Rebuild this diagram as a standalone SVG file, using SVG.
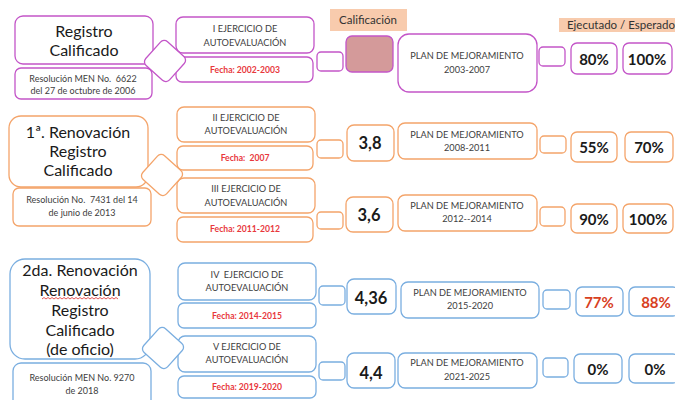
<svg xmlns="http://www.w3.org/2000/svg" width="675" height="400" viewBox="0 0 675 400">
<style>
text{font-family:Lato,"Open Sans","Liberation Sans",sans-serif;text-anchor:middle;white-space:pre}
rect{fill:#fff;stroke-width:1.3}
.p rect,.p.d{stroke:#C355C8}
.o rect,.o.d{stroke:#F4A46A}
.b rect,.b.d{stroke:#7AAEE0}
.d{fill:#fff;stroke-width:1.3}
.big{font-size:16px;fill:#1a1a1a}
.sm{font-size:9.2px;fill:#404040}
.res{font-size:9px;fill:#404040}
.pl{font-size:9.2px;fill:#404040}
.fe{font-size:8.6px;font-weight:bold;fill:#E8383D}
.num{font-size:16.5px;font-weight:bold;fill:#1a1a1a}
.pc{font-size:15px;font-weight:bold;fill:#1a1a1a}
.red{fill:#D8401E}
.lab{fill:#F8CBAD;stroke:none}
.lt{font-size:11.5px;fill:#333}
</style>
<rect width="675" height="400" fill="#fff" stroke="none"/>

<!-- header labels -->
<g id="label-calificacion">
<rect class="lab" x="330" y="9" width="77" height="22"/>
<text class="lt" x="368" y="24">Calificación</text>
</g>
<g id="label-ejecutado">
<rect class="lab" x="559" y="18" width="120" height="14"/>
<text class="lt" x="567" y="29" style="text-anchor:start">Ejecutado / Esperado</text>
</g>

<!-- ===== Row 1 (purple) ===== -->
<g class="p">
<g id="registro-calificado"><rect x="15" y="16" width="138" height="48" rx="8"/>
<text class="big" x="84" y="37">Registro</text><text class="big" x="84" y="56">Calificado</text></g>
<g id="resolucion-2006"><rect x="15" y="68" width="137" height="31" rx="6"/>
<text class="res" x="83" y="82">Resolución MEN No.  6622</text><text class="res" x="83" y="94">del 27 de octubre de 2006</text></g>
<g id="ejercicio-1"><rect x="176" y="17" width="138" height="36" rx="7"/>
<text class="sm" x="245" y="32">I EJERCICIO DE</text><text class="sm" x="245" y="46">AUTOEVALUACIÓN</text></g>
<g id="fecha-1"><rect x="176" y="57" width="137" height="25" rx="6"/>
<text class="fe" x="245" y="73">Fecha: 2002-2003</text></g>
<g id="conector-1a"><rect x="317" y="52" width="26" height="19" rx="4"/></g>
<g id="calificacion-1"><rect x="346" y="36" width="47" height="36" rx="6" style="fill:#D49A9A"/></g>
<g id="plan-1"><rect x="398" y="34" width="139" height="58" rx="11"/>
<text class="pl" x="467" y="59">PLAN DE MEJORAMIENTO</text><text class="pl" x="467" y="73">2003-2007</text></g>
<g id="conector-1b"><rect x="539" y="47" width="26" height="19" rx="4"/></g>
<g id="ejecutado-1"><rect x="571" y="43" width="46" height="31" rx="6"/><text class="pc" x="594" y="65">80%</text></g>
<g id="esperado-1"><rect x="623" y="43" width="49" height="31" rx="6"/><text class="pc" x="647" y="65">100%</text></g>
</g>

<!-- ===== Row 2 (orange) ===== -->
<g class="o">
<g id="renovacion-1"><rect x="9" y="116" width="139" height="71" rx="12"/>
<text class="big" x="78" y="138">1ª. Renovación</text><text class="big" x="78" y="157">Registro</text><text class="big" x="78" y="176">Calificado</text></g>
<g id="resolucion-2013"><rect x="13" y="188" width="138" height="38" rx="6"/>
<text class="res" x="82" y="203">Resolución No.  7431 del 14</text><text class="res" x="82" y="216">de junio de 2013</text></g>
<g id="ejercicio-2"><rect x="177" y="107" width="138" height="35" rx="7"/>
<text class="sm" x="246" y="121">II EJERCICIO DE</text><text class="sm" x="246" y="134">AUTOEVALUACIÓN</text></g>
<g id="fecha-2"><rect x="177" y="146" width="136" height="24" rx="6"/>
<text class="fe" x="245" y="161">Fecha:  2007</text></g>
<g id="ejercicio-3"><rect x="177" y="178" width="138" height="35" rx="7"/>
<text class="sm" x="246" y="192">III EJERCICIO DE</text><text class="sm" x="246" y="206">AUTOEVALUACIÓN</text></g>
<g id="fecha-3"><rect x="177" y="217" width="136" height="25" rx="6"/>
<text class="fe" x="245" y="232">Fecha: 2011-2012</text></g>
<g id="conector-2a"><rect x="317" y="140" width="26" height="18" rx="4"/></g>
<g id="conector-3a"><rect x="317" y="212" width="26" height="17" rx="4"/></g>
<g id="calificacion-2"><rect x="347" y="125" width="47" height="36" rx="7"/><text class="num" x="370" y="149">3,8</text></g>
<g id="plan-2"><rect x="398" y="123" width="139" height="36" rx="7"/>
<text class="pl" x="467" y="138">PLAN DE MEJORAMIENTO</text><text class="pl" x="467" y="151">2008-2011</text></g>
<g id="conector-2b"><rect x="540" y="136" width="26" height="17" rx="4"/></g>
<g id="ejecutado-2"><rect x="571" y="132" width="46" height="30" rx="6"/><text class="pc" x="594" y="153">55%</text></g>
<g id="esperado-2"><rect x="625" y="132" width="48" height="30" rx="6"/><text class="pc" x="649" y="153">70%</text></g>
<g id="calificacion-3"><rect x="346" y="197" width="47" height="35" rx="7"/><text class="num" x="369" y="221">3,6</text></g>
<g id="plan-3"><rect x="398" y="195" width="139" height="36" rx="7"/>
<text class="pl" x="467" y="209">PLAN DE MEJORAMIENTO</text><text class="pl" x="467" y="222">2012--2014</text></g>
<g id="conector-3b"><rect x="540" y="207" width="25" height="19" rx="4"/></g>
<g id="ejecutado-3"><rect x="571" y="204" width="46" height="29" rx="6"/><text class="pc" x="594" y="225">90%</text></g>
<g id="esperado-3"><rect x="623" y="204" width="50" height="29" rx="6"/><text class="pc" x="648" y="225">100%</text></g>
</g>

<!-- ===== Row 3 (blue) ===== -->
<g class="b">
<g id="renovacion-2"><rect x="10" y="259" width="140" height="100" rx="15"/>
<text class="big" x="80" y="276">2da. Renovación</text><text class="big" x="80" y="296">Renovación</text><text class="big" x="80" y="316">Registro</text><text class="big" x="80" y="336">Calificado</text><text class="big" x="80" y="355">(de oficio)</text>
<path d="M42 299 l2 -1.5 l2 1.5 l2 -1.5 l2 1.5 l2 -1.5 l2 1.5 l2 -1.5 l2 1.5 l2 -1.5 l2 1.5 l2 -1.5 l2 1.5 l2 -1.5 l2 1.5 l2 -1.5 l2 1.5 l2 -1.5 l2 1.5 l2 -1.5 l2 1.5 l2 -1.5 l2 1.5 l2 -1.5 l2 1.5 l2 -1.5 l2 1.5 l2 -1.5 l2 1.5 l2 -1.5 l2 1.5 l2 -1.5 l2 1.5 l2 -1.5 l2 1.5 l2 -1.5 l2 1.5 l2 -1.5 l2 1.5" fill="none" stroke="#E03030" stroke-width="0.8"/></g>
<g id="resolucion-2018"><rect x="13" y="363" width="138" height="45" rx="8"/>
<text class="res" x="82" y="381">Resolución MEN No. 9270</text><text class="res" x="82" y="394">de 2018</text></g>
<g id="ejercicio-4"><rect x="178" y="263" width="138" height="37" rx="7"/>
<text class="sm" x="247" y="278">IV  EJERCICIO DE</text><text class="sm" x="247" y="291">AUTOEVALUACIÓN</text></g>
<g id="fecha-4"><rect x="178" y="303" width="138" height="25" rx="6"/>
<text class="fe" x="247" y="319">Fecha: 2014-2015</text></g>
<g id="ejercicio-5"><rect x="178" y="336" width="138" height="36" rx="7"/>
<text class="sm" x="247" y="350">V EJERCICIO DE</text><text class="sm" x="247" y="363">AUTOEVALUACIÓN</text></g>
<g id="fecha-5"><rect x="178" y="376" width="138" height="22" rx="6"/>
<text class="fe" x="247" y="390">Fecha: 2019-2020</text></g>
<g id="conector-4a"><rect x="319" y="286" width="26" height="19" rx="4"/></g>
<g id="conector-5a"><rect x="319" y="362" width="26" height="18" rx="4"/></g>
<g id="calificacion-4"><rect x="347" y="279" width="49" height="35" rx="7"/><text class="num" x="371" y="304">4,36</text></g>
<g id="plan-4"><rect x="401" y="282" width="138" height="36" rx="7"/>
<text class="pl" x="470" y="296">PLAN DE MEJORAMIENTO</text><text class="pl" x="470" y="309">2015-2020</text></g>
<g id="conector-4b"><rect x="543" y="290" width="27" height="19" rx="4"/></g>
<g id="ejecutado-4"><rect x="576" y="287" width="47" height="29" rx="6"/><text class="pc red" x="599" y="308">77%</text></g>
<g id="esperado-4"><rect x="629" y="287" width="50" height="29" rx="6"/><text class="pc red" x="656" y="308">88%</text></g>
<g id="calificacion-5"><rect x="347" y="353" width="48" height="35" rx="7"/><text class="num" x="371" y="379">4,4</text></g>
<g id="plan-5"><rect x="398" y="353" width="139" height="35" rx="7"/>
<text class="pl" x="467" y="366">PLAN DE MEJORAMIENTO</text><text class="pl" x="467" y="380">2021-2025</text></g>
<g id="conector-5b"><rect x="543" y="358" width="25" height="19" rx="4"/></g>
<g id="ejecutado-5"><rect x="574" y="354" width="48" height="29" rx="6"/><text class="pc" x="598" y="375">0%</text></g>
<g id="esperado-5"><rect x="629" y="354" width="50" height="29" rx="6"/><text class="pc" x="655" y="375">0%</text></g>
</g>

<!-- connectors (diamond joints) -->
<g id="connectors">
<rect class="d p" x="-16" y="-16" width="32" height="32" rx="5" transform="translate(165 61) rotate(42)"/>
<rect class="d o" x="-16" y="-16" width="32" height="32" rx="5" transform="translate(162 175) rotate(42)"/>
<rect class="d b" x="-16" y="-16" width="32" height="32" rx="5" transform="translate(163 348) rotate(42)"/>
</g>
</svg>
